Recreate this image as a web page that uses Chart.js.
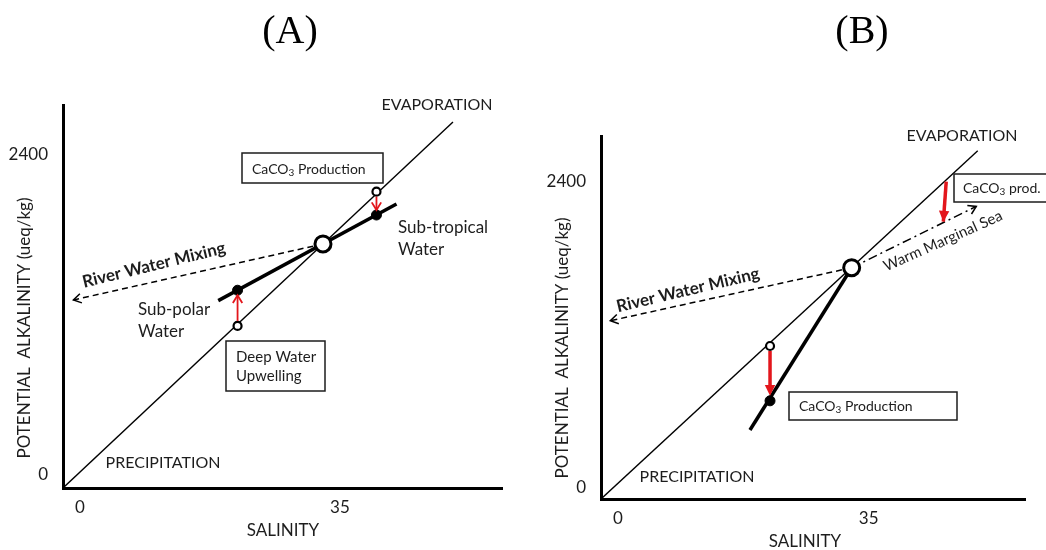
<!DOCTYPE html>
<html>
<head>
<meta charset="utf-8">
<title>Potential alkalinity vs salinity</title>
<script src="https://cdn.jsdelivr.net/npm/chart.js@4.4.0/dist/chart.umd.min.js"></script>
<style>
  body { margin: 0; background: #fff; width: 1046px; height: 550px; overflow: hidden; position: relative; }
  canvas { position: absolute; top: 0; }
  #chartA { left: 0; }
  #chartB { left: 523px; }
</style>
</head>
<body>
<canvas id="chartA" width="523" height="550"></canvas>
<canvas id="chartB" width="523" height="550"></canvas>
<script>
/* ---------- axis ticks (same for both panels) ---------- */
const salTicks = [0, 35];
const alkTicks = [0, 2400];

/* ---------- (A) sub-polar / sub-tropical mixing ---------- */
const evapSalA = [0, 52.5];
const evapAlkA = [0, 2745];
const mixSalA = [20.9, 44.9];
const mixAlkA = [1405, 2130];
const riverSalA = [35, 1.4];
const riverAlkA = [1830, 1410];
const openSalA = [23.5, 42.2];
const openAlkA = [1215, 2222];
const fillSalA = [23.5, 42.2];
const fillAlkA = [1483, 2047];
const meanSalA = [35];
const meanAlkA = [1830];

/* ---------- (B) warm marginal sea ---------- */
const evapSalB = [0, 52.6];
const evapAlkB = [0, 2732];
const mixSalB = [20.8, 35];
const mixAlkB = [541, 1814];
const riverSalB = [35, 1.3];
const riverAlkB = [1814, 1398];
const warmSalB = [35, 52.4];
const warmAlkB = [1814, 2295];
const prodSalB = [48.2, 47.8];
const prodAlkB = [2489, 2175];
const openSalB = [23.6];
const openAlkB = [1200];
const fillSalB = [23.6];
const fillAlkB = [770];
const meanSalB = [35];
const meanAlkB = [1814];

const INK = '#1d1d1d';
const RED = '#e3161c';
const FONT = 'Lato, "DejaVu Sans", sans-serif';

function xy(xs, ys) {
  return xs.map((x, i) => ({ x: x, y: ys[i] }));
}

/* ---------- drawing helpers ---------- */
function head(ctx, x0, y0, x1, y1, kind, color, w) {
  const a = Math.atan2(y1 - y0, x1 - x0);
  const solid = kind === 'solid';
  const len = solid ? 12 : 9;
  const spread = solid ? 0.45 : 0.55;
  ctx.save();
  ctx.setLineDash([]);
  ctx.strokeStyle = color;
  ctx.fillStyle = color;
  ctx.lineWidth = solid ? 1 : w;
  ctx.beginPath();
  ctx.moveTo(x1 - len * Math.cos(a - spread), y1 - len * Math.sin(a - spread));
  ctx.lineTo(x1, y1);
  ctx.lineTo(x1 - len * Math.cos(a + spread), y1 - len * Math.sin(a + spread));
  if (solid) { ctx.closePath(); ctx.fill(); } else { ctx.stroke(); }
  ctx.restore();
}

// text with an optional subscript part, e.g. [['CaCO'], ['3', true], [' Production']]
function rich(ctx, parts, x, y, size, align) {
  const sub = Math.round(size * 0.68);
  let w = 0;
  parts.forEach(p => {
    ctx.font = (p[1] ? sub : size) + 'px ' + FONT;
    w += ctx.measureText(p[0]).width;
  });
  let cx = align === 'center' ? x - w / 2 : x;
  ctx.textAlign = 'left';
  ctx.textBaseline = 'middle';
  parts.forEach(p => {
    ctx.font = (p[1] ? sub : size) + 'px ' + FONT;
    ctx.fillText(p[0], cx, p[1] ? y + size * 0.28 : y);
    cx += ctx.measureText(p[0]).width;
  });
}

const sketch = {
  id: 'sketch',
  afterDatasetsDraw(chart, args, opts) {
    const ctx = chart.ctx;
    const meta = {};
    chart.data.datasets.forEach((ds, i) => { meta[ds.label] = chart.getDatasetMeta(i); });
    ctx.save();

    // red shift arrows from the open point to the filled point
    (opts.shifts || []).forEach(i => {
      const a = meta.open.data[i], b = meta.filled.data[i];
      const dir = Math.sign(b.y - a.y);
      const y0 = a.y + dir * 5, y1 = b.y - dir * 5;
      ctx.strokeStyle = RED;
      ctx.lineWidth = opts.shiftWidth;
      ctx.setLineDash([]);
      ctx.beginPath();
      ctx.moveTo(a.x, y0);
      ctx.lineTo(b.x, y1 - dir * (opts.shiftHead === 'solid' ? 6 : 0));
      ctx.stroke();
      head(ctx, a.x, y0, b.x, y1, opts.shiftHead, RED, opts.shiftWidth);
    });

    // heads on directed lines
    chart.data.datasets.forEach((ds, i) => {
      if (!ds.head) return;
      const pts = chart.getDatasetMeta(i).data;
      const p = pts[pts.length - 2], q = pts[pts.length - 1];
      head(ctx, p.x, p.y, q.x, q.y, ds.head, ds.borderColor, ds.borderWidth);
    });

    ctx.fillStyle = INK;
    ctx.strokeStyle = INK;

    // panel letter
    ctx.font = '40px "Liberation Serif", serif';
    ctx.textAlign = 'center';
    ctx.textBaseline = 'alphabetic';
    ctx.fillStyle = '#000';
    ctx.fillText(opts.letter.text, opts.letter.x, opts.letter.y);
    ctx.fillStyle = INK;

    // axis titles
    ctx.font = '17px ' + FONT;
    ctx.textAlign = 'center';
    ctx.textBaseline = 'middle';
    ctx.fillText('SALINITY', opts.xTitle.x, opts.xTitle.y);
    ctx.save();
    ctx.translate(opts.yTitle.x, opts.yTitle.y);
    ctx.rotate(-Math.PI / 2);
    ctx.fillText('POTENTIAL  ALKALINITY (ueq/kg)', 0, 0);
    ctx.restore();

    // free labels
    opts.labels.forEach(l => {
      ctx.save();
      ctx.translate(l.x, l.y);
      ctx.rotate((l.rot || 0) * Math.PI / 180);
      ctx.font = (l.bold ? 'bold ' : '') + l.size + 'px ' + FONT;
      ctx.textAlign = l.align || 'center';
      ctx.textBaseline = 'middle';
      ctx.fillText(l.text, 0, 0);
      ctx.restore();
    });

    // boxed notes
    opts.boxes.forEach(b => {
      ctx.fillStyle = '#fff';
      ctx.fillRect(b.x0, b.y0, b.x1 - b.x0, b.y1 - b.y0);
      ctx.lineWidth = 1.5;
      ctx.strokeStyle = INK;
      ctx.strokeRect(b.x0, b.y0, b.x1 - b.x0, b.y1 - b.y0);
      ctx.fillStyle = INK;
      b.lines.forEach(ln => rich(ctx, ln.parts, ln.x, ln.y, b.size, 'left'));
    });
    ctx.restore();
  }
};

const CACO3_PROD = [['CaCO'], ['3', true], [' Production']];

function lineSet(label, data, width, dash, headKind, color) {
  return {
    label: label,
    data: data,
    showLine: true,
    borderColor: color || '#000',
    borderWidth: width,
    borderDash: dash || [],
    pointRadius: 0,
    head: headKind
  };
}

function pointSet(label, data, radius, width, fill) {
  return {
    label: label,
    data: data,
    showLine: false,
    pointRadius: radius,
    pointBorderWidth: width,
    pointBorderColor: '#000',
    pointBackgroundColor: fill
  };
}

function makeChart(id, datasets, frame, notes) {
  return new Chart(document.getElementById(id), {
    type: 'scatter',
    plugins: [sketch],
    data: { datasets: datasets },
    options: {
      responsive: false,
      devicePixelRatio: 1,
      animation: false,
      events: [],
      layout: { padding: { top: frame.top, right: frame.right, left: 0, bottom: 0 } },
      plugins: {
        legend: { display: false },
        tooltip: { enabled: false },
        sketch: notes
      },
      scales: {
        x: {
          type: 'linear',
          min: 0,
          max: frame.xMax,
          afterBuildTicks: s => { s.ticks = salTicks.map(v => ({ value: v })); },
          afterFit: s => { s.height = frame.xAxisH; },
          grid: { color: 'rgba(0,0,0,0)', drawTicks: false },
          border: { color: '#000', width: 3 },
          ticks: { padding: 9, labelOffset: 17, color: INK, font: { family: FONT, size: 17 },
                   callback: v => String(v) }
        },
        y: {
          type: 'linear',
          min: 0,
          max: frame.yMax,
          afterBuildTicks: s => { s.ticks = alkTicks.map(v => ({ value: v })); },
          afterFit: s => { s.width = frame.yAxisW; },
          grid: { color: 'rgba(0,0,0,0)', drawTicks: false },
          border: { color: '#000', width: 3 },
          ticks: { padding: 15, labelOffset: frame.yLabelShift, color: INK, font: { family: FONT, size: 17 },
                   callback: v => String(v) }
        }
      }
    }
  });
}

/* ---------- panel A ---------- */
// first dataset is painted last, so markers come first
makeChart('chartA', [
  pointSet('mean', xy(meanSalA, meanAlkA), 8, 3, '#fff'),
  pointSet('filled', xy(fillSalA, fillAlkA), 5, 1, '#000'),
  pointSet('open', xy(openSalA, openAlkA), 4, 2.2, '#fff'),
  lineSet('river', xy(riverSalA, riverAlkA), 1.5, [6, 4], 'chevron'),
  lineSet('mixing', xy(mixSalA, mixAlkA), 3.5),
  lineSet('evaporation', xy(evapSalA, evapAlkA), 1.4)
], { top: 105, right: 21, xAxisH: 62, yAxisW: 63, xMax: 59.1, yMax: 2872, yLabelShift: -13 }, {
  letter: { text: '(A)', x: 290, y: 43 },
  xTitle: { x: 283, y: 531 },
  yTitle: { x: 25, y: 328 },
  shifts: [0, 1],
  shiftWidth: 1.8,
  shiftHead: 'chevron',
  labels: [
    { text: 'EVAPORATION', x: 437, y: 105, size: 16 },
    { text: 'PRECIPITATION', x: 163, y: 463, size: 16 },
    { text: 'Sub-tropical', x: 398, y: 228, size: 17, align: 'left' },
    { text: 'Water', x: 398, y: 250, size: 17, align: 'left' },
    { text: 'Sub-polar', x: 138, y: 310, size: 17, align: 'left' },
    { text: 'Water', x: 138, y: 332, size: 17, align: 'left' },
    { text: 'River Water Mixing', x: 154, y: 265, size: 17, bold: true, rot: -13.7 }
  ],
  boxes: [
    { x0: 242, y0: 153, x1: 383, y1: 183, size: 14, lines: [{ parts: CACO3_PROD, x: 252, y: 169 }] },
    { x0: 226, y0: 341, x1: 325, y1: 391, size: 15, lines: [
      { parts: [['Deep Water']], x: 236, y: 357 },
      { parts: [['Upwelling']], x: 236, y: 376 }
    ] }
  ]
});

/* ---------- panel B ---------- */
makeChart('chartB', [
  pointSet('mean', xy(meanSalB, meanAlkB), 8, 3, '#fff'),
  pointSet('filled', xy(fillSalB, fillAlkB), 5, 1, '#000'),
  pointSet('open', xy(openSalB, openAlkB), 4, 2.2, '#fff'),
  lineSet('production', xy(prodSalB, prodAlkB), 3.5, [], 'solid', RED),
  lineSet('river', xy(riverSalB, riverAlkB), 1.5, [6, 4], 'chevron'),
  lineSet('warm', xy(warmSalB, warmAlkB), 1.5, [9, 4, 2, 4], 'chevron'),
  lineSet('mixing', xy(mixSalB, mixAlkB), 3.5),
  lineSet('evaporation', xy(evapSalB, evapAlkB), 1.4)
], { top: 136, right: 21, xAxisH: 51, yAxisW: 78, xMax: 59.2, yMax: 2847, yLabelShift: -11 }, {
  letter: { text: '(B)', x: 339, y: 43 },
  xTitle: { x: 282, y: 542 },
  yTitle: { x: 40, y: 348 },
  shifts: [0],
  shiftWidth: 3.5,
  shiftHead: 'solid',
  labels: [
    { text: 'EVAPORATION', x: 439, y: 136, size: 16 },
    { text: 'PRECIPITATION', x: 174, y: 477, size: 16 },
    { text: 'River Water Mixing', x: 165, y: 290, size: 17, bold: true, rot: -13.4 },
    { text: 'Warm Marginal Sea', x: 420, y: 241, size: 15, rot: -24 }
  ],
  boxes: [
    { x0: 431, y0: 174, x1: 530, y1: 202, size: 14, lines: [{ parts: [['CaCO'], ['3', true], [' prod.']], x: 440, y: 188 }] },
    { x0: 266, y0: 392, x1: 434, y1: 420, size: 14, lines: [{ parts: CACO3_PROD, x: 276, y: 406 }] }
  ]
});
</script>
</body>
</html>
